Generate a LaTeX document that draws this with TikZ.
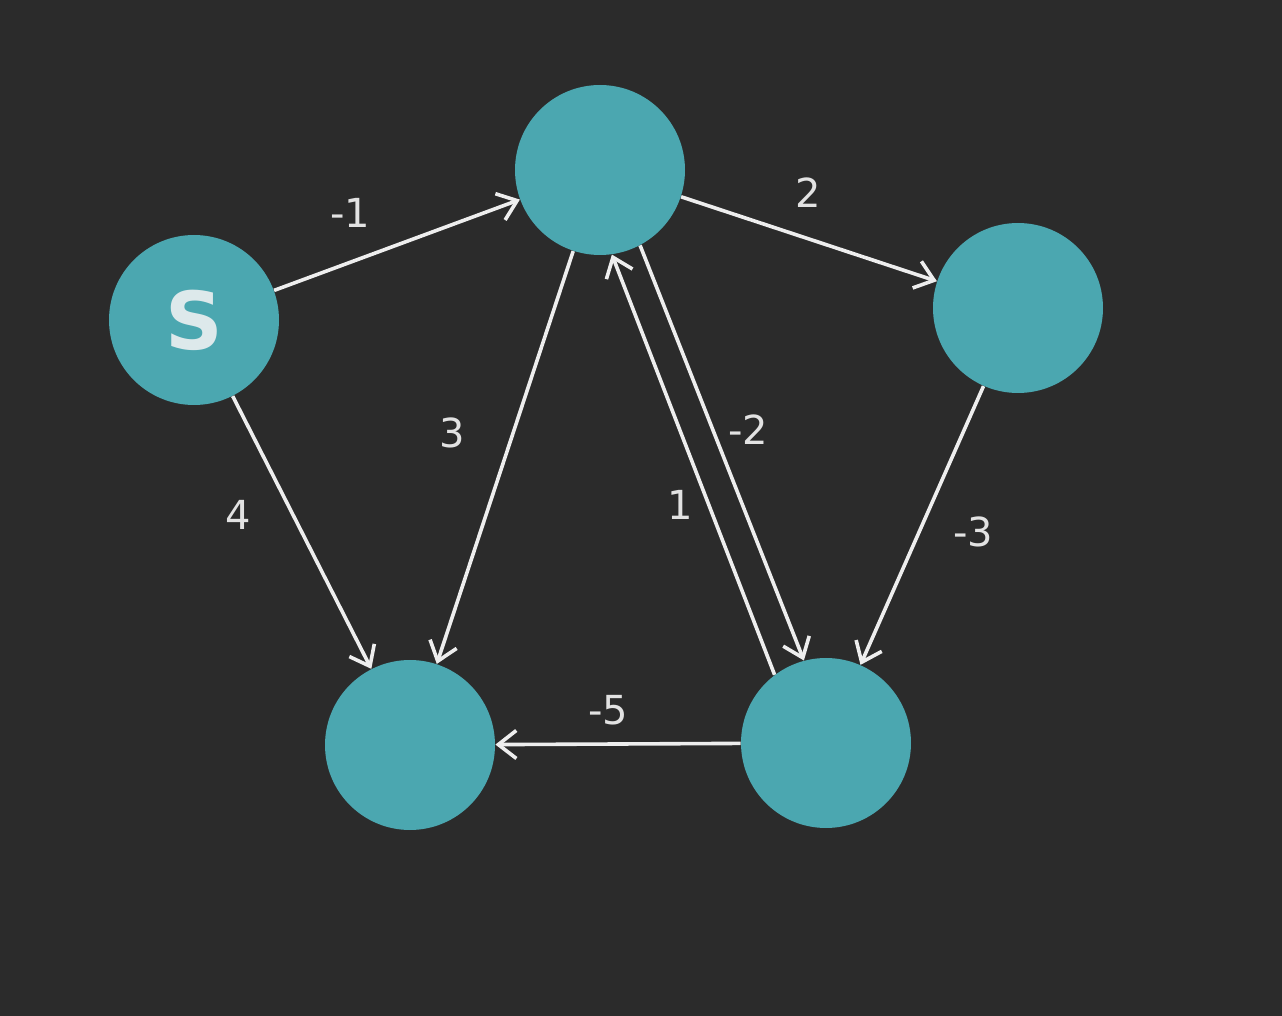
\documentclass[tikz,border=0pt]{standalone}
\usepackage{fontspec}
\setmainfont{DejaVu Sans}
\usetikzlibrary{arrows.meta}
\definecolor{bgc}{HTML}{2B2B2B}
\definecolor{nodec}{HTML}{4BA7B0}
\definecolor{edgec}{HTML}{EEEEEE}
\definecolor{labc}{HTML}{E2E2E2}
\definecolor{sc}{HTML}{DDE9EB}
\begin{document}
\begin{tikzpicture}[x=0.5pt,y=-0.5pt,
  vertex/.style={circle,fill=nodec,minimum size=85pt,inner sep=0pt},
  wedge/.style={draw=edgec,line width=1.8pt,-{Straight Barb[length=9pt,width=14pt,line width=1.8pt]}},
  wlabel/.style={text=labc,font=\fontsize{20}{24}\selectfont,inner sep=1pt}]
  % background and frame
  \fill[bgc] (0,0) rectangle (1282,1016);
  \useasboundingbox (0,0) rectangle (1282,1016);

  % vertices
  \node[vertex] (s)  at (194,320) {\textcolor{sc}{\fontsize{40}{44}\selectfont\bfseries S}};
  \node[vertex] (t)  at (600,170) {};
  \node[vertex] (r)  at (1018,308) {};
  \node[vertex] (bl) at (410,745) {};
  \node[vertex] (br) at (826,743) {};

  % weighted edges
  \draw[wedge] (s) -- (t);
  \draw[wedge] (t) -- (r);
  \draw[wedge] (s) -- (bl);
  \draw[wedge] (t) -- (bl);
  \draw[wedge] (t.-62) -- (br.105);
  \draw[wedge] (br.127) -- (t.-82);
  \draw[wedge] (r) -- (br);
  \draw[wedge] (br) -- (bl);

  % weights
  \node[wlabel] (w1) at (350,213) {-1};
  \node[wlabel] (w2) at (808,193) {2};
  \node[wlabel] (w3) at (238,515) {4};
  \node[wlabel] (w4) at (452,433) {3};
  \node[wlabel] (w5) at (748,430) {-2};
  \node[wlabel] (w6) at (680,505) {1};
  \node[wlabel] (w7) at (973,532) {-3};
  \node[wlabel] (w8) at (608,710) {-5};
\end{tikzpicture}
\end{document}
